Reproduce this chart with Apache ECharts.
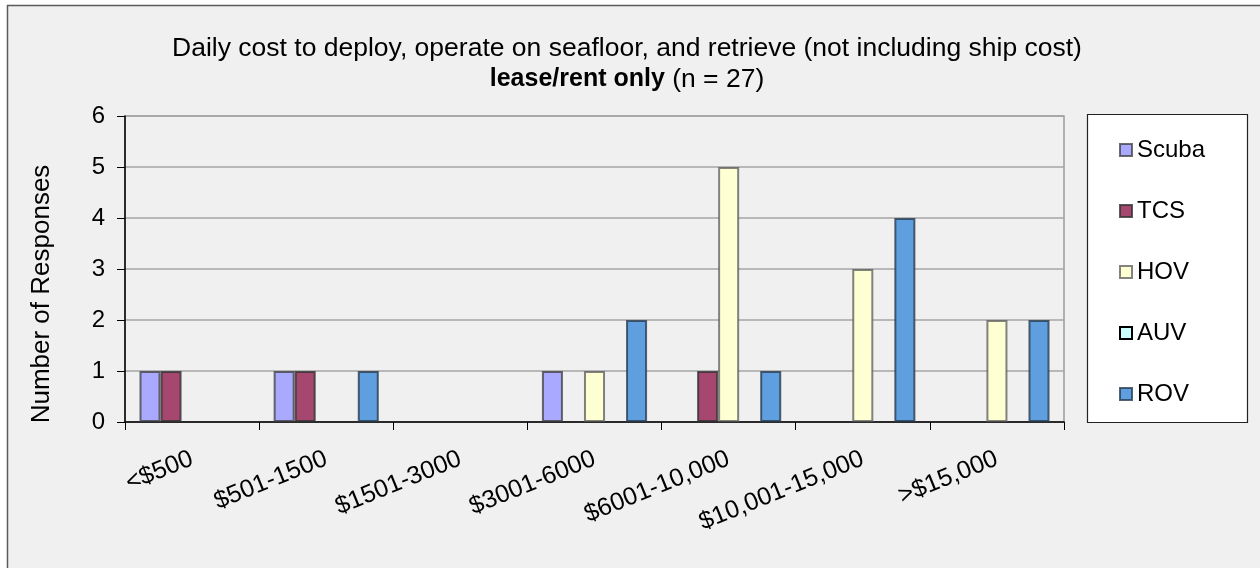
<!DOCTYPE html>
<html>
<head>
<meta charset="utf-8">
<script src="https://cdn.jsdelivr.net/npm/echarts@6/dist/echarts.min.js"></script>
<style>
html,body{margin:0;padding:0;background:#ffffff;}
#chart{width:1260px;height:568px;}
</style>
</head>
<body>
<div id="chart"></div>
<script>
const categories = ['<$500', '$501-1500', '$1501-3000', '$3001-6000', '$6001-10,000', '$10,001-15,000', '>$15,000'];
const seriesNames = ['Scuba', 'TCS', 'HOV', 'AUV', 'ROV'];
const scuba = [1, 1, 0, 1, 0, 0, 0];
const tcs = [1, 1, 0, 0, 1, 0, 0];
const hov = [0, 0, 0, 1, 5, 3, 2];
const auv = [0, 0, 0, 0, 0, 0, 0];
const rov = [0, 1, 0, 2, 1, 4, 2];
const yTicks = [0, 1, 2, 3, 4, 5, 6];
const yAxisTitle = 'Number of Responses';

const seriesValues = [scuba, tcs, hov, auv, rov];
const fills = ['#a9a9ff', '#a5476f', '#ffffd4', '#ccffff', '#5f9fdf'];
const borders = ['rgba(60,60,60,0.75)', 'rgba(50,50,50,0.8)', 'rgba(90,90,90,0.75)', '#000000', 'rgba(40,60,80,0.8)'];

const chart = echarts.init(document.getElementById('chart'), null, {renderer: 'canvas'});
const FONT = '"Liberation Sans", Arial, sans-serif';

const option = {
  backgroundColor: '#ffffff',
  animation: false,
  graphic: [
    {type: 'rect', z: -10, silent: true, shape: {x: 7.5, y: 5.5, width: 1300, height: 620},
     style: {fill: '#f0f0f0', stroke: '#5a5a5a', lineWidth: 1.5}},
    {type: 'rect', z: -5, silent: true, shape: {x: 1087.5, y: 114.5, width: 160, height: 308},
     style: {fill: '#ffffff', stroke: '#222222', lineWidth: 1.2}},
    {type: 'text', silent: true, x: 42, y: 294, rotation: Math.PI / 2,
     style: {text: yAxisTitle, fontFamily: FONT, fontSize: 26, fill: '#000', align: 'center', verticalAlign: 'middle'}}
  ],
  title: {
    left: 622, top: 28, textAlign: 'center',
    text: 'Daily cost to deploy, operate on seafloor, and retrieve (not including ship cost)\n{b|lease/rent only} (n = 27)',
    textStyle: {
      fontFamily: FONT, fontSize: 26.5, fontWeight: 'normal', color: '#000', lineHeight: 31,
      rich: {b: {fontFamily: FONT, fontSize: 25, fontWeight: 'bold', color: '#000', lineHeight: 31}}
    }
  },
  legend: {
    orient: 'vertical', left: 1114, top: 133,
    itemWidth: 12, itemHeight: 12, itemGap: 37,
    icon: 'rect',
    textStyle: {fontFamily: FONT, fontSize: 24, color: '#000', lineHeight: 24},
    data: seriesNames
  },
  grid: {left: 125, right: 196, top: 116, bottom: 146, show: true, borderColor: '#9a9a9a', borderWidth: 1.5, backgroundColor: 'transparent'},
  xAxis: {
    type: 'category', data: categories,
    axisLine: {lineStyle: {color: '#000', width: 1.5}},
    axisTick: {show: true, length: 8, lineStyle: {color: '#000'}},
    axisLabel: {rotate: 22, fontFamily: FONT, fontSize: 25, color: '#000', margin: 36, interval: 0}
  },
  yAxis: {
    type: 'value', min: 0, max: 6, interval: 1,
    axisLine: {show: true, lineStyle: {color: '#000', width: 1.5}},
    axisTick: {show: true, length: 8, lineStyle: {color: '#000'}},
    axisLabel: {fontFamily: FONT, fontSize: 24, color: '#000', margin: 20,
      formatter: v => (yTicks.indexOf(v) >= 0 ? String(v) : '')},
    splitLine: {show: true, lineStyle: {color: '#a6a6a6', width: 1.5}}
  },
  series: seriesNames.map((name, i) => ({
    name: name, type: 'bar',
    data: seriesValues[i].map(v => (v === 0 ? null : v)),
    barGap: '0%', barCategoryGap: '21.6%',
    itemStyle: {color: fills[i], borderColor: borders[i], borderWidth: 2}
  }))
};
chart.setOption(option);
</script>
</body>
</html>
